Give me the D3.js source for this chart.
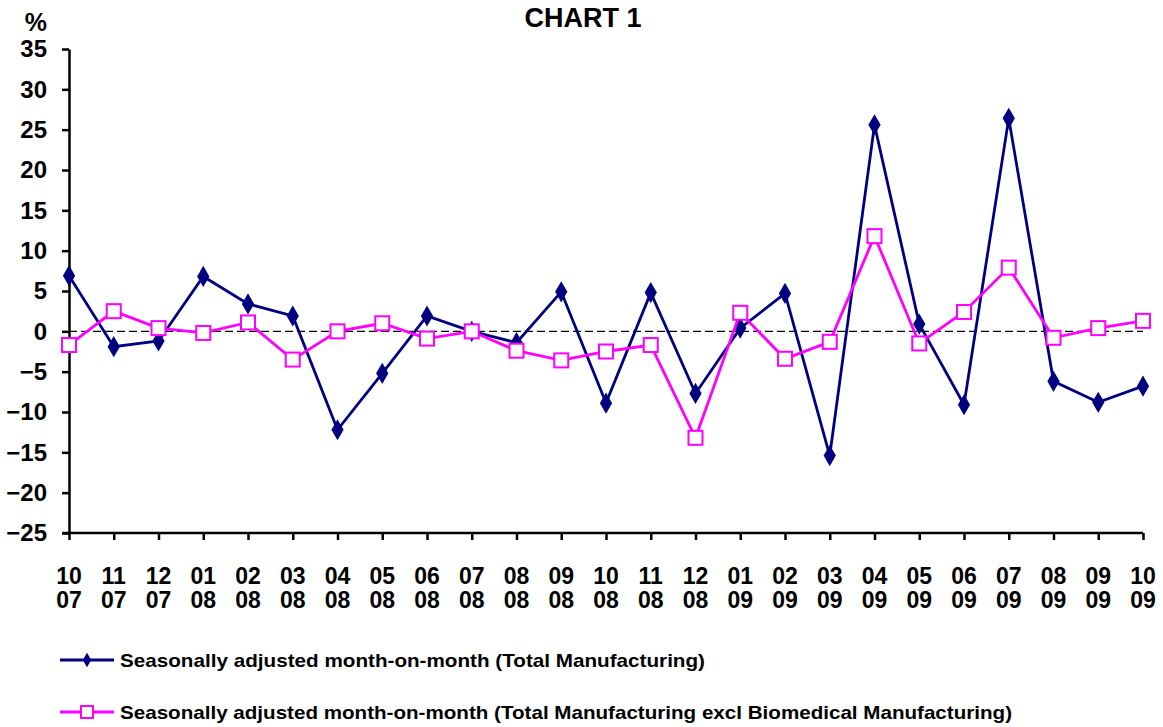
<!DOCTYPE html>
<html><head><meta charset="utf-8">
<script src="https://cdn.jsdelivr.net/npm/d3@7"></script>
<style>
html,body{margin:0;padding:0;background:#fff;}
text{font-family:"Liberation Sans",Arial,sans-serif;}
</style></head>
<body>
<svg id="c" width="1163" height="727"></svg>
<script>
const months = ["10","11","12","01","02","03","04","05","06","07","08","09","10","11","12","01","02","03","04","05","06","07","08","09","10"];
const years  = ["07","07","07","08","08","08","08","08","08","08","08","08","08","08","08","09","09","09","09","09","09","09","09","09","09"];
const totalMfg = [6.9,-1.9,-1.2,6.8,3.4,1.9,-12.2,-5.2,1.9,0.0,-1.4,4.9,-8.9,4.8,-7.7,0.4,4.7,-15.4,25.6,0.9,-9.1,26.4,-6.2,-8.8,-6.8];
const exclBiomed = [-1.7,2.5,0.4,-0.2,1.1,-3.5,0.0,1.0,-0.9,0.0,-2.4,-3.6,-2.5,-1.7,-13.2,2.3,-3.4,-1.3,11.8,-1.5,2.4,7.9,-0.8,0.4,1.3];
const yTicks = [35,30,25,20,15,10,5,0,-5,-10,-15,-20,-25];
const seriesNames = ["Seasonally adjusted month-on-month (Total Manufacturing)",
                     "Seasonally adjusted month-on-month (Total Manufacturing excl Biomedical Manufacturing)"];

const svg = d3.select("#c");
const idx = d3.range(months.length);
const x = d3.scalePoint().domain(idx).range([69,1143]);
const y = d3.scaleLinear().domain([-25,35]).range([533,49]);

// title
svg.append("text").attr("x",583).attr("y",27).attr("text-anchor","middle")
  .attr("font-size",27).attr("font-weight","bold").text("CHART 1");
svg.append("text").attr("x",47).attr("y",31).attr("text-anchor","end")
  .attr("font-size",25).attr("font-weight","bold").text("%");

// y axis
const yAxis = d3.axisLeft(y).tickValues(yTicks).tickSize(7).tickSizeOuter(0).tickPadding(15);
const gy = svg.append("g").attr("transform","translate(69,0)").call(yAxis);
gy.select(".domain").attr("stroke","#000").attr("stroke-width",2.5);
gy.selectAll(".tick line").attr("stroke","#000").attr("stroke-width",2.5);
gy.selectAll(".tick text").attr("font-size",24).attr("font-weight","bold").attr("fill","#000")
  .style("font-family","'Liberation Sans',Arial,sans-serif");

// x axis
const xAxis = d3.axisBottom(x).tickSize(7).tickSizeOuter(0).tickFormat("");
const gx = svg.append("g").attr("transform","translate(0,533)").call(xAxis);
gx.select(".domain").attr("stroke","#000").attr("stroke-width",2.5).attr("d","M62,0H1143");
gx.selectAll(".tick line").attr("stroke","#000").attr("stroke-width",2.5);
const xl = svg.append("g");
xl.selectAll("text.m").data(idx).join("text").attr("class","m")
  .attr("x",d=>x(d)).attr("y",584).attr("text-anchor","middle")
  .attr("font-size",23).attr("font-weight","bold").text(d=>months[d]);
xl.selectAll("text.yr").data(idx).join("text").attr("class","yr")
  .attr("x",d=>x(d)).attr("y",608).attr("text-anchor","middle")
  .attr("font-size",23).attr("font-weight","bold").text(d=>years[d]);

// zero line
svg.append("line").attr("x1",x(0)).attr("x2",x(24)).attr("y1",y(0)).attr("y2",y(0))
  .attr("stroke","#000").attr("stroke-width",1.3).attr("stroke-dasharray","8,4");

const line = d3.line().x((d,i)=>x(i)).y(d=>y(d));
const diamond = d3.symbol().type(d3.symbolDiamond).size(130);

// navy series
svg.append("path").datum(totalMfg).attr("d",line).attr("fill","none")
  .attr("stroke","#000080").attr("stroke-width",2.8);
svg.append("g").selectAll("path").data(totalMfg).join("path")
  .attr("transform",(d,i)=>`translate(${x(i)},${y(d)})`).attr("d",diamond).attr("fill","#000080");

// magenta series
svg.append("path").datum(exclBiomed).attr("d",line).attr("fill","none")
  .attr("stroke","#FF00FF").attr("stroke-width",2.8);
svg.append("g").selectAll("rect").data(exclBiomed).join("rect")
  .attr("x",(d,i)=>x(i)-7).attr("y",d=>y(d)-7).attr("width",14).attr("height",14)
  .attr("fill","#fff").attr("stroke","#FF00FF").attr("stroke-width",2);

// legend
const lg = svg.append("g");
lg.append("line").attr("x1",60).attr("x2",114).attr("y1",660).attr("y2",660).attr("stroke","#000080").attr("stroke-width",2.8);
lg.append("path").attr("transform","translate(87,660)").attr("d",d3.symbol().type(d3.symbolDiamond).size(60)).attr("fill","#000080");
lg.append("text").attr("x",120).attr("y",667).attr("font-size",19).attr("font-weight","bold")
  .attr("textLength",585).attr("lengthAdjust","spacingAndGlyphs").text(seriesNames[0]);
lg.append("line").attr("x1",60).attr("x2",114).attr("y1",712).attr("y2",712).attr("stroke","#FF00FF").attr("stroke-width",2.8);
lg.append("rect").attr("x",81).attr("y",706).attr("width",12).attr("height",12).attr("fill","#fff").attr("stroke","#FF00FF").attr("stroke-width",2);
lg.append("text").attr("x",120).attr("y",719).attr("font-size",19).attr("font-weight","bold")
  .attr("textLength",892).attr("lengthAdjust","spacingAndGlyphs").text(seriesNames[1]);
</script>
</body></html>
